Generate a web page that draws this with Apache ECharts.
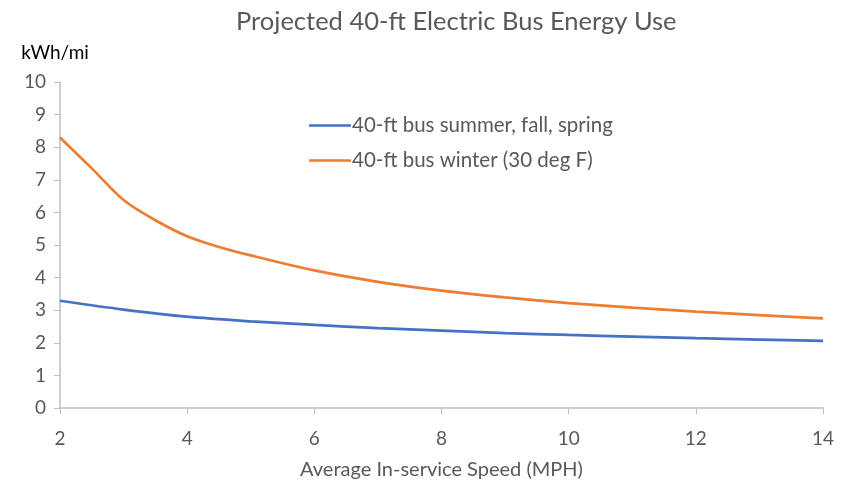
<!DOCTYPE html>
<html><head><meta charset="utf-8">
<script src="https://cdn.jsdelivr.net/npm/echarts@6/dist/echarts.min.js"></script>
<style>html,body{margin:0;padding:0;background:#fff}#c{width:852px;height:481px}</style>
</head><body><div id="c"></div>
<script>
const titleText = 'Projected 40-ft Electric Bus Energy Use';
const xName = 'Average In-service Speed (MPH)';
const yName = 'kWh/mi';
const seriesNames = ['40-ft bus summer, fall, spring', '40-ft bus winter (30 deg F)'];
const speedsSummer = [2, 3, 4, 5, 6, 7, 8, 9, 10, 11, 12, 13, 14];
const summerValues = [3.29, 3.02, 2.80, 2.66, 2.55, 2.45, 2.37, 2.30, 2.24, 2.19, 2.14, 2.10, 2.06];
const speedsWinter = [2, 2.5, 3, 3.5, 4, 4.5, 5, 6, 7, 8, 9, 10, 11, 12, 13, 14];
const winterValues = [8.30, 7.35, 6.38, 5.76, 5.27, 4.94, 4.68, 4.22, 3.87, 3.60, 3.39, 3.22, 3.08, 2.96, 2.85, 2.75];

const font = 'Lato, "Open Sans", sans-serif';
const chart = echarts.init(document.getElementById('c'));
chart.setOption({
  animation: false,
  textStyle: { fontFamily: font },
  title: { text: titleText, left: 231, top: 4, textStyle: { fontFamily: font, fontWeight: 'normal', fontSize: 25.5, color: '#595959' } },
  legend: {
    orient: 'vertical', left: 304, top: 110, itemGap: 14, itemWidth: 42, itemHeight: 14,
    icon: 'path://M0,6 L42,6 L42,8.5 L0,8.5 Z',
    textStyle: { fontFamily: font, fontSize: 20.5, color: '#595959', padding: [0, 0, 0, -4] },
    data: seriesNames
  },
  grid: { left: 60, right: 29, top: 82, bottom: 73, outerBoundsMode: 'none', containLabel: false },
  xAxis: {
    type: 'value', min: 2, max: 14, interval: 2,
    name: xName, nameLocation: 'middle', nameGap: 52,
    nameTextStyle: { fontFamily: font, fontSize: 20, color: '#595959' },
    axisLine: { lineStyle: { color: '#bfbfbf', width: 1.5 } },
    axisTick: { show: true, length: 6, lineStyle: { color: '#bfbfbf' } },
    axisLabel: { fontSize: 19, color: '#595959', margin: 21 },
    splitLine: { show: false }
  },
  yAxis: {
    type: 'value', min: 0, max: 10, interval: 1,
    name: yName, nameLocation: 'end', nameGap: 20,
    nameTextStyle: { fontFamily: font, fontSize: 19, color: '#000', align: 'center', padding: [0, 10, 0, 0] },
    axisLine: { show: true, lineStyle: { color: '#bfbfbf', width: 1.5 } },
    axisTick: { show: true, length: 6, lineStyle: { color: '#bfbfbf' } },
    axisLabel: { fontSize: 19, color: '#595959', margin: 14 },
    splitLine: { show: false }
  },
  series: [
    { name: seriesNames[0], type: 'line', smooth: 0.3, showSymbol: false, color: '#4472C4',
      lineStyle: { width: 2.75, color: '#4472C4' },
      data: speedsSummer.map((x, i) => [x, summerValues[i]]) },
    { name: seriesNames[1], type: 'line', smooth: 0.3, showSymbol: false, color: '#ED7D31',
      lineStyle: { width: 2.75, color: '#ED7D31' },
      data: speedsWinter.map((x, i) => [x, winterValues[i]]) }
  ]
});
</script></body></html>
